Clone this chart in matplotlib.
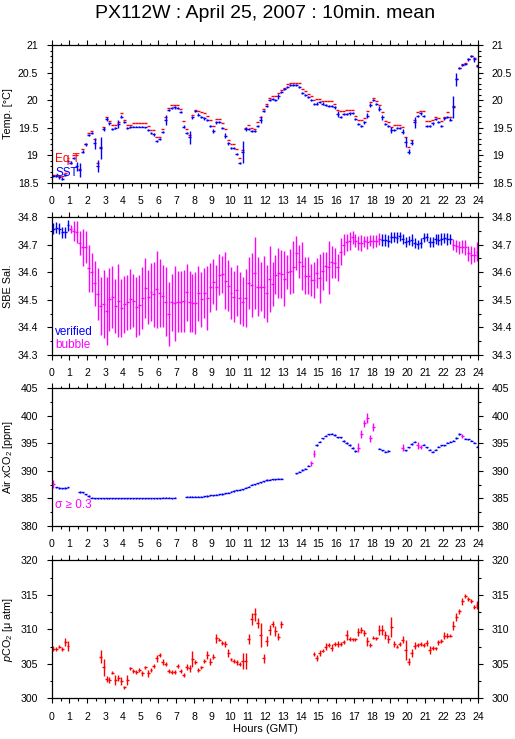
import numpy as np
import matplotlib
matplotlib.use("Agg")
import matplotlib.pyplot as plt
from matplotlib.ticker import MultipleLocator, FormatStrFormatter

plt.rcParams['font.family'] = ['Liberation Sans', 'DejaVu Sans']
plt.rcParams['mathtext.fontset'] = 'custom'
plt.rcParams['mathtext.rm'] = 'Liberation Sans'
plt.rcParams['mathtext.it'] = 'Liberation Sans:italic'

nan = np.nan
# 10-minute interval centres (hours GMT)
hours = np.arange(144) / 6 + 1 / 12

sst = [18.62, 18.62, 18.60, 18.58, 18.65, 18.90, 18.87, 18.95, 18.80, 18.74, 19.07, 19.20,
       19.37, 19.41, 19.22, 18.80, 19.13, 19.48, 19.66, 19.58, 19.48, 19.50, 19.57, 19.70,
       19.60, 19.49, 19.51, 19.52, 19.52, 19.52, 19.52, 19.51, 19.46, 19.40, 19.38, 19.26,
       19.30, 19.42, 19.64, 19.82, 19.86, 19.87, 19.86, 19.78, 19.52, 19.40, 19.33, 19.69,
       19.80, 19.74, 19.70, 19.67, 19.64, 19.54, 19.44, 19.60, 19.60, 19.50, 19.36, 19.22,
       19.13, 19.13, 19.02, 18.86, 19.07, 19.48, 19.48, 19.44, 19.44, 19.53, 19.65, 19.80,
       19.89, 20.00, 20.02, 20.00, 20.07, 20.15, 20.20, 20.24, 20.27, 20.27, 20.27, 20.24,
       20.13, 20.09, 20.06, 20.00, 19.93, 19.94, 19.97, 19.94, 19.91, 19.89, 19.89, 19.87,
       19.75, 19.69, 19.75, 19.75, 19.76, 19.77, 19.66, 19.57, 19.54, 19.60, 19.72, 19.91,
       20.00, 19.93, 19.85, 19.69, 19.57, 19.54, 19.46, 19.46, 19.49, 19.49, 19.43, 19.25,
       19.07, 19.23, 19.60, 19.71, 19.76, 19.72, 19.54, 19.54, 19.58, 19.66, 19.61, 19.54,
       19.67, 19.69, 19.65, 19.88, 20.38, 20.59, 20.64, 20.66, 20.74, 20.80, 20.74, 20.62]
sst_sd = [.02, .02, .02, .03, .02, .02, .02, .02, .08, .13, .03, .03,
          .02, .02, .10, .11, .20, .04, .03, .02, .02, .02, .08, .03,
          .02, .02, .02, .01, .01, .01, .01, .01, .02, .02, .02, .02,
          .02, .02, .09, .02, .02, .02, .02, .02, .03, .02, .12, .03,
          .02, .02, .02, .02, .02, .02, .03, .03, .02, .02, .04, .03,
          .02, .02, .02, .02, .20, .03, .02, .02, .02, .02, .07, .02,
          .02, .02, .02, .02, .04, .02, .02, .02, .02, .02, .02, .02,
          .02, .02, .02, .02, .02, .02, .02, .02, .02, .02, .02, .02,
          .06, .02, .02, .02, .02, .02, .02, .02, .02, .03, .04, .04,
          .02, .02, .04, .04, .02, .02, .06, .02, .02, .02, .05, .09,
          .04, .05, .10, .02, .02, .02, .02, .02, .02, .02, .02, .02,
          .02, .02, .02, .20, .12, .02, .02, .02, .02, .02, .04, .02]
eqt = [18.65, 18.64, 18.63, 18.63, 18.68, 18.95, 18.86, 19.00, 19.00, 18.76, 19.12, 19.20,
       19.41, 19.44, 19.30, 18.87, 19.15, 19.52, 19.70, 19.62, 19.55, 19.55, 19.60, 19.77,
       19.65, 19.56, 19.56, 19.59, 19.59, 19.59, 19.59, 19.58, 19.54, 19.46, 19.46, 19.34,
       19.34, 19.47, 19.70, 19.86, 19.92, 19.92, 19.92, 19.84, 19.63, 19.47, 19.37, 19.74,
       19.82, 19.80, 19.79, 19.77, 19.72, 19.64, 19.53, 19.66, 19.66, 19.58, 19.47, 19.28,
       19.20, 19.20, 19.11, 18.96, 19.10, 19.50, 19.56, 19.50, 19.48, 19.60, 19.69, 19.85,
       19.94, 20.04, 20.08, 20.08, 20.13, 20.19, 20.23, 20.29, 20.32, 20.32, 20.32, 20.32,
       20.21, 20.17, 20.12, 20.08, 20.00, 20.03, 20.03, 19.98, 19.98, 19.98, 19.98, 19.94,
       19.83, 19.81, 19.81, 19.83, 19.83, 19.83, 19.72, 19.64, 19.64, 19.68, 19.80, 19.97,
       20.04, 19.98, 19.91, 19.78, 19.63, 19.61, 19.52, 19.55, 19.55, 19.55, 19.51, 19.34,
       19.15, 19.28, 19.64, 19.78, 19.81, 19.80, 19.63, 19.62, 19.64, 19.70, 19.67, 19.63,
       19.70, 19.78, 19.70, 19.89, 20.38, 20.59, 20.65, 20.68, 20.74, 20.81, 20.76, 20.63]

sal = [34.757, 34.762, 34.757, 34.745, 34.745, 34.770, 34.758, 34.750, 34.746, 34.706, 34.690, 34.690,
       34.615, 34.600, 34.560, 34.520, 34.478, 34.485, 34.460, 34.502, 34.509, 34.478, 34.497, 34.470,
       34.484, 34.491, 34.502, 34.497, 34.473, 34.482, 34.506, 34.542, 34.511, 34.528, 34.520, 34.538,
       34.524, 34.514, 34.494, 34.449, 34.491, 34.488, 34.494, 34.494, 34.496, 34.528, 34.494, 34.488,
       34.488, 34.524, 34.502, 34.524, 34.506, 34.545, 34.566, 34.545, 34.591, 34.593, 34.569, 34.552,
       34.524, 34.512, 34.534, 34.506, 34.494, 34.506, 34.560, 34.554, 34.597, 34.548, 34.548, 34.548,
       34.524, 34.576, 34.558, 34.591, 34.597, 34.593, 34.576, 34.600, 34.603, 34.618, 34.669, 34.639,
       34.623, 34.588, 34.588, 34.572, 34.572, 34.597, 34.578, 34.605, 34.621, 34.618, 34.639, 34.633,
       34.618, 34.675, 34.700, 34.708, 34.714, 34.727, 34.714, 34.706, 34.706, 34.712, 34.709, 34.714,
       34.712, 34.714, 34.720, 34.718, 34.718, 34.712, 34.727, 34.727, 34.726, 34.730, 34.720, 34.709,
       34.715, 34.718, 34.706, 34.702, 34.706, 34.726, 34.727, 34.709, 34.709, 34.720, 34.718, 34.720,
       34.724, 34.720, 34.721, 34.700, 34.696, 34.691, 34.693, 34.691, 34.669, 34.663, 34.663, 34.675]
sal_sd = [.020, .020, .020, .020, .020, .020, .015, .035, .039, .043, .068, .058,
          .085, .070, .082, .094, .106, .124, .124, .115, .112, .097, .133, .106,
          .103, .100, .109, .097, .109, .109, .112, .108, .097, .106, .118, .139,
          .123, .114, .124, .117, .104, .136, .109, .109, .112, .103, .109, .106,
          .112, .100, .100, .091, .115, .088, .082, .082, .074, .067, .103, .094,
          .094, .094, .091, .094, .088, .106, .094, .115, .130, .106, .088, .112,
          .103, .119, .079, .070, .091, .088, .100, .061, .082, .094, .062, .059,
          .088, .067, .067, .058, .067, .054, .088, .070, .051, .097, .058, .054,
          .048, .048, .039, .030, .032, .023, .024, .026, .029, .021, .023, .020,
          .023, .022, .021, .021, .022, .022, .020, .019, .020, .017, .017, .018,
          .015, .021, .018, .016, .018, .017, .015, .019, .018, .017, .020, .021,
          .018, .022, .018, .019, .021, .024, .024, .027, .027, .033, .027, .033]
# 1 = verified, 0 = bubble
sal_flag = [1, 1, 1, 1, 1, 1] + [0] * 105 + [1] * 24 + [0] * 9

xco2 = [387.6, 387.0, 386.9, 386.85, 386.9, 387.0, nan, nan, nan, 386.2, 386.1, 385.75,
        385.45, 385.15, 385.05, 385.0, 385.0, 385.0, 385.05, 385.05, 385.05, 385.05, 385.05, 385.05,
        385.05, 385.05, 385.05, 385.05, 385.05, 385.05, 385.05, 385.05, 385.05, 385.05, 385.05, 385.05,
        385.05, 385.1, 385.1, 385.1, 385.05, 385.1, nan, nan, nan, 385.3, 385.3, 385.3,
        385.3, 385.35, 385.35, 385.4, 385.45, 385.55, 385.6, 385.65, 385.75, 385.8, 385.9, 386.05,
        386.2, 386.35, 386.45, 386.6, 386.7, 386.95, 387.15, 387.45, 387.6, 387.75, 387.9, 388.15,
        388.35, 388.4, 388.5, 388.5, 388.55, 388.6, nan, nan, nan, nan, 389.55, 389.85,
        390.15, 390.4, 390.9, 391.4, 393.1, 394.7, 395.3, 395.9, 396.35, 396.6, 396.7, 396.5,
        396.1, 396.1, 395.4, 395.0, 394.7, 394.1, 393.6, 394.2, 396.7, 398.6, 399.6, 395.9,
        397.9, nan, 394.0, 393.7, 393.5, 393.6, nan, nan, nan, nan, 394.2, 393.7,
        394.3, 394.85, 395.3, 394.6, 394.3, 394.7, 394.3, 393.8, 393.5, 393.8, 394.4, 394.6,
        394.6, 395.1, 395.3, 395.5, 395.9, 396.7, 396.35, 395.85, 395.7, 395.5, 395.1, 394.4]
xco2_sd = [0.75, .1, .1, .1, .1, .1, .1, .1, .1, .15, .1, .1,
           .1, .1, .1, .1, .1, .1, .1, .1, .1, .1, .1, .1,
           .1, .1, .1, .1, .1, .1, .1, .1, .1, .1, .1, .1,
           .1, .1, .1, .1, .1, .1, .1, .1, .1, .1, .1, .1,
           .1, .1, .1, .1, .1, .1, .1, .1, .1, .1, .1, .1,
           .1, .1, .1, .1, .1, .1, .1, .1, .1, .1, .1, .1,
           .1, .1, .1, .1, .1, .1, .1, .1, .1, .1, .1, .1,
           .1, .1, .1, 0.45, 0.67, .2, .15, .1, .1, .1, .1, .1,
           .1, .1, .15, .15, .15, .15, .1, 0.8, 0.75, 0.7, 0.85, 0.6,
           0.7, .1, .1, .1, .1, .1, .1, .1, .1, .1, 0.6, .1,
           .1, .15, .1, 0.6, 0.4, .1, .1, .1, .1, .1, .1, .1,
           .1, .1, .1, .1, .15, .15, 0.4, .1, .1, .1, .1, .15]

pco2 = [307.2, 307.2, 307.5, 307.1, 308.2, 307.6, nan, nan, nan, nan, nan, nan,
        nan, nan, nan, nan, 306.05, 304.5, 302.75, 302.65, 303.7, 302.65, 302.9, 302.5,
        301.6, 302.65, 304.35, 303.95, 303.8, 304.1, 303.6, 304.5, 303.6, 304.1, 304.7, 305.8,
        306.3, 305.3, 305.0, 303.95, 303.8, 303.8, 304.7, 304.0, 303.4, 304.5, 304.35, 305.7,
        305.3, 304.1, 304.5, 305.4, 306.3, 305.3, 306.05, 308.7, 308.5, 308.0, 307.85, 306.6,
        305.65, 305.4, 305.2, 305.0, 305.4, 305.4, 308.6, 311.5, 312.2, 310.9, 309.2, 305.8,
        308.3, 309.9, 310.75, 309.8, 308.95, 310.75, nan, nan, nan, nan, nan, nan,
        nan, nan, nan, nan, 306.4, 305.9, 306.5, 306.9, 307.5, 307.75, 307.35, 307.85,
        307.85, 307.85, 308.15, 309.2, 308.6, 308.55, 308.55, 309.6, 309.9, 309.45, 308.3, 307.75,
        308.8, 308.7, 309.9, 309.9, 309.2, 308.6, 310.4, 307.85, 307.5, 307.85, 308.5, 307.0,
        305.3, 306.6, 307.65, 307.75, 307.85, 307.75, 308.0, 307.0, 307.25, 307.25, 308.15, 308.3,
        309.1, 309.1, 309.1, 310.55, 311.75, 312.6, 314.05, 314.85, 314.4, 314.05, 313.3, 313.55]
pco2_sd = [.36, .3, .25, .3, .6, .77, .3, .3, .3, .3, .3, .3,
           .3, .3, .3, .3, .97, 1.2, .44, .48, .25, .68, .44, .6,
           .25, .77, .2, .25, .25, .25, .3, .25, .48, .25, .25, .48,
           .25, .44, .25, .25, .25, .25, .25, .3, .25, .41, .48, 1.1,
           .3, .3, .25, .3, .6, .48, .3, .66, .25, .3, .4, .6,
           .25, .25, .41, .3, 1.16, 1.1, .75, .9, .92, .77, 1.7, .66,
           .73, .73, .44, .73, .56, .53, .3, .3, .3, .3, .3, .3,
           .3, .3, .3, .3, .3, .44, .44, .25, .48, .25, .48, .25,
           .48, .25, .3, .73, .25, .25, .25, .6, .48, .48, .66, .3,
           .25, .25, .73, .73, .53, .53, 1.45, .41, .25, .25, .48, 1.45,
           .48, .6, .48, .25, .25, .25, .41, .56, .3, .25, .36, .3,
           .56, .3, .25, .6, .6, .41, .48, .3, .3, .3, .3, .63]

BLUE = '#0000ff'
RED = '#ff0000'
MAG = '#ff00ff'
HALF = 1 / 12
LW = 1.0
FS = 7.6

fig = plt.figure(figsize=(5.15, 7.39), dpi=100)
left, width = 0.1004, 0.8287
bottoms = [0.7524, 0.5196, 0.2882, 0.0551]
height = 0.1866
axes = [fig.add_axes([left, b, width, height]) for b in bottoms]

specs = [
    (18.5, 21, 0.5, 0.1, 'Temp. [°C]'),
    (34.3, 34.8, 0.1, 0.05, 'SBE Sal.'),
    (380, 405, 5, 2.5, 'Air xCO$_2$ [ppm]'),
    (300, 320, 5, 2.5, '$p$CO$_2$ [μ atm]'),
]
for ax, (lo, hi, maj, mnr, lab) in zip(axes, specs):
    ax.set_xlim(0, 24)
    ax.set_ylim(lo, hi)
    ax.xaxis.set_major_locator(MultipleLocator(1))
    ax.xaxis.set_minor_locator(MultipleLocator(0.5))
    ax.yaxis.set_major_locator(MultipleLocator(maj))
    ax.yaxis.set_minor_locator(MultipleLocator(mnr))
    ax.yaxis.set_major_formatter(FormatStrFormatter('%g'))
    ax.tick_params(which='both', direction='out', top=True, right=True,
                   labelright=True, labelsize=FS, width=0.8, color='black')
    ax.tick_params(which='major', length=3.6)
    ax.tick_params(which='minor', length=1.8)
    ax.tick_params(axis='x', which='major', pad=6)
    ax.tick_params(axis='y', which='major', pad=6)
    for sp in ax.spines.values():
        sp.set_linewidth(0.9)
    ax.set_ylabel(lab, fontsize=FS + 0.2, va='center')
    ax.yaxis.set_label_coords(-0.102, 0.5)

h = np.array(hours)

# Panel 1: temperatures
ax = axes[0]
ax.errorbar(h, eqt, xerr=HALF, fmt='none', ecolor=RED, elinewidth=LW, capsize=0)
ax.errorbar(h, sst, xerr=HALF, yerr=sst_sd, fmt='none', ecolor=BLUE, elinewidth=LW, capsize=0)
ax.text(0.008, 0.175, 'Eq.T', color=RED, transform=ax.transAxes, fontsize=8.5, va='center')
ax.text(0.008, 0.07, 'SST', color=BLUE, transform=ax.transAxes, fontsize=8.5, va='center')

# Panel 2: salinity
ax = axes[1]
s = np.array(sal)
ssd = np.array(sal_sd)
fl = np.array(sal_flag)
sv = np.where(fl == 1, s, np.nan)
sb = np.where(fl == 0, s, np.nan)
ax.errorbar(h, sb, xerr=HALF, yerr=ssd, fmt='none', ecolor=MAG, elinewidth=LW, capsize=0)
ax.errorbar(h, sv, xerr=HALF, yerr=ssd, fmt='none', ecolor=BLUE, elinewidth=LW, capsize=0)
ax.text(0.008, 0.165, 'verified', color=BLUE, transform=ax.transAxes, fontsize=8.5, va='center')
ax.text(0.008, 0.07, 'bubble', color=MAG, transform=ax.transAxes, fontsize=8.5, va='center')

# Panel 3: air xCO2
ax = axes[2]
x = np.array(xco2)
xsd = np.array(xco2_sd)
hi_sd = xsd >= 0.3
ax.errorbar(h, np.where(~hi_sd, x, np.nan), xerr=HALF, yerr=xsd, fmt='none',
            ecolor=BLUE, elinewidth=LW, capsize=0)
ax.errorbar(h, np.where(hi_sd, x, np.nan), xerr=HALF, yerr=xsd, fmt='none',
            ecolor=MAG, elinewidth=LW, capsize=0)
ax.text(0.008, 0.15, 'σ ≥ 0.3', color=MAG, transform=ax.transAxes, fontsize=8.5, va='center')

# Panel 4: pCO2
ax = axes[3]
ax.errorbar(h, pco2, xerr=HALF, yerr=pco2_sd, fmt='none', ecolor=RED, elinewidth=LW, capsize=0)
ax.set_xlabel('Hours (GMT)', fontsize=FS + 0.4, labelpad=2)

fig.text(0.5147, 0.982, 'PX112W : April 25, 2007 : 10min. mean', ha='center', va='center',
         fontsize=14)

fig.savefig('out.png', dpi=100)
